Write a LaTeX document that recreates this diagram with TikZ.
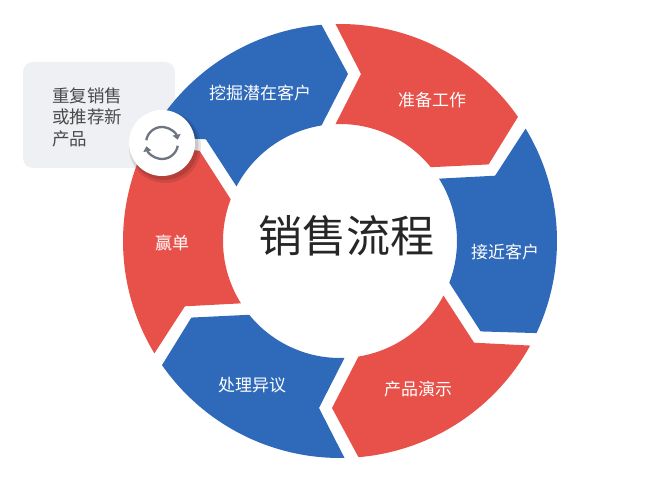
\documentclass[tikz,border=0pt]{standalone}
\usepackage{fontspec}
\newfontfamily\cjk{Noto Sans CJK SC}
\usetikzlibrary{arrows.meta}
\definecolor{segred}{HTML}{E8514A}
\definecolor{segblue}{HTML}{2F69B9}
\definecolor{boxgray}{HTML}{EEF0F3}
\definecolor{txtgray}{HTML}{4A4A4A}
\definecolor{icongray}{HTML}{6E7480}
\tikzset{
  seglabel/.style={text=white, font=\cjk\fontsize{17}{20}\selectfont, inner sep=0pt},
  titlelabel/.style={text=black!85, font=\cjk\fontsize{44}{50}\selectfont, inner sep=0pt},
  notelabel/.style={text=txtgray, font=\cjk\fontsize{17.5}{21.5}\selectfont, align=left, inner sep=0pt, anchor=west},
  iconarc/.style={draw=icongray, line width=2.3pt, -{Triangle[length=5pt,width=8pt]}}
}
\begin{document}
\begin{tikzpicture}[x=1pt,y=1pt]
\useasboundingbox (0,0) rectangle (653,480);
% note box
\fill[boxgray, rounded corners=10pt] (23,312) rectangle (175,418);
\node[notelabel] (note) at (52,363) {重复销售\\或推荐新\\产品};
% ring
\begin{scope}[shift={(340,239)}]
\foreach \k/\col in {0/segred,1/segblue,2/segred,3/segblue,4/segred,5/segblue}{
  \fill[\col] ({91.19-60*\k}:217pt)
    arc[start angle={91.19-60*\k}, end angle={94.89-60*(\k+1)}, radius=217pt]
    -- ({87.26-60*(\k+1)}:167.2pt)
    -- ({99.1-60*(\k+1)}:117pt)
    arc[start angle={99.1-60*(\k+1)}, end angle={92.2-60*\k}, radius=117pt]
    -- ({82.83-60*\k}:168.3pt) -- cycle;
}
\end{scope}
% labels
\node[seglabel] (s1) at (260,387) {挖掘潜在客户};
\node[seglabel] (s2) at (432,380) {准备工作};
\node[seglabel] (s3) at (505,228) {接近客户};
\node[seglabel] (s4) at (418,91) {产品演示};
\node[seglabel] (s5) at (252,95) {处理异议};
\node[seglabel] (s6) at (172,237) {赢单};
\node[titlelabel] (title) at (346,244) {销售流程};
% icon with shadow
\fill[black, opacity=0.10] (165,333) circle[radius=36pt];
\fill[black, opacity=0.12] (164.5,334) circle[radius=34pt];
\fill[white] (162,337) circle[radius=33pt];
\coordinate (ic) at (162,337);
\draw[iconarc] ([shift={(170:16pt)}]ic) arc[start angle=170, end angle=12, radius=16pt];
\draw[iconarc] ([shift={(-10:16pt)}]ic) arc[start angle=-10, end angle=-168, radius=16pt];
\end{tikzpicture}
\end{document}
